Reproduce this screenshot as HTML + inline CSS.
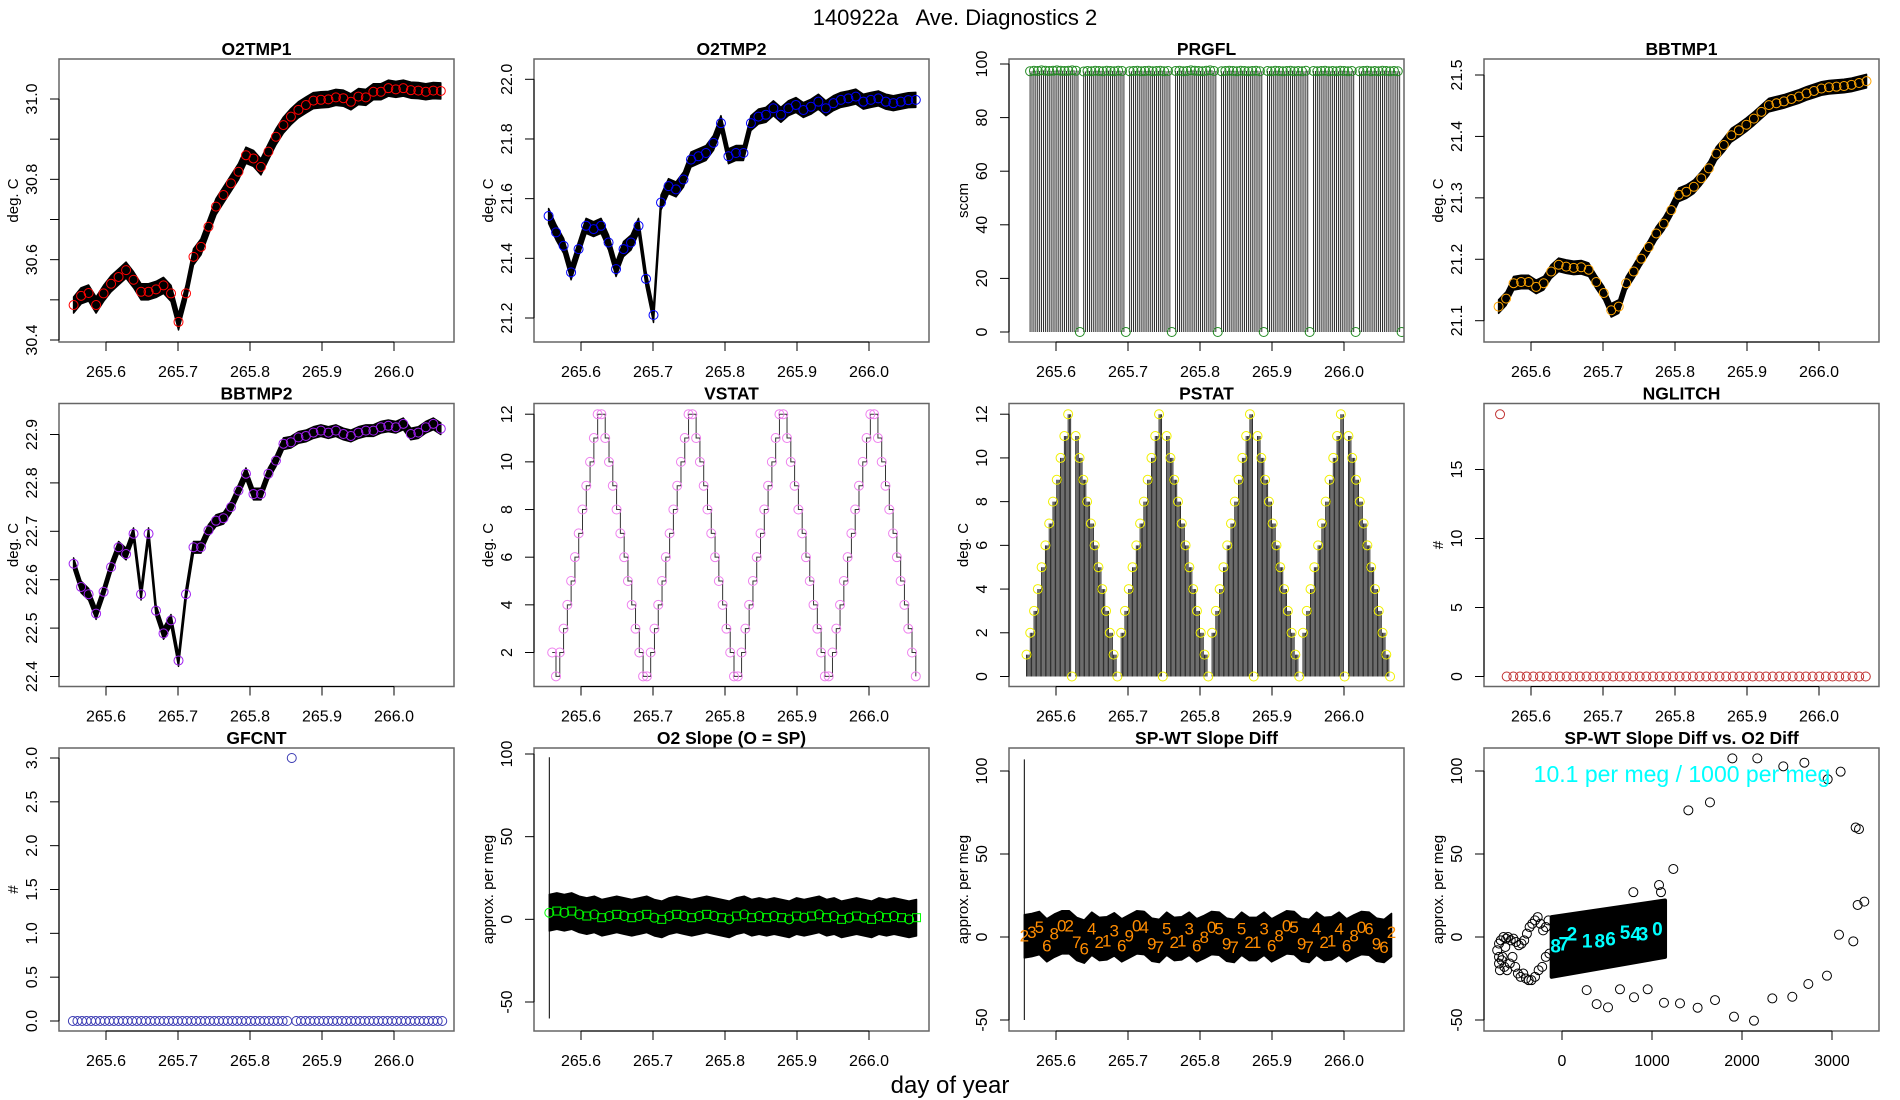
<!DOCTYPE html>
<html><head><meta charset="utf-8"><title>140922a Ave. Diagnostics 2</title>
<style>
html,body{margin:0;padding:0;background:#fff;}
svg{display:block;font-family:"Liberation Sans",sans-serif;}
</style></head>
<body>
<svg id="chart" xmlns="http://www.w3.org/2000/svg" width="1900" height="1100" viewBox="0 0 1900 1100">
<rect x="0" y="0" width="1900" height="1100" fill="#fff"/>
<text x="955" y="25" text-anchor="middle" font-size="22" xml:space="preserve">140922a   Ave. Diagnostics 2</text>
<text x="950" y="1093" text-anchor="middle" font-size="24">day of year</text>
</svg>
<script>
// ---------- data ----------
const o2tmp1 = [30.487,30.51,30.517,30.487,30.516,30.54,30.557,30.574,30.55,30.52,30.52,30.526,30.536,30.516,30.445,30.516,30.607,30.632,30.682,30.732,30.761,30.79,30.819,30.86,30.852,30.831,30.869,30.906,30.935,30.956,30.973,30.985,30.996,30.998,30.999,31.004,31.002,30.993,31.006,31.004,31.018,31.018,31.027,31.024,31.027,31.022,31.021,31.018,31.021,31.02];
const o2tmp2 = [21.542,21.487,21.442,21.353,21.431,21.509,21.498,21.509,21.453,21.364,21.431,21.453,21.509,21.331,21.21,21.587,21.642,21.631,21.664,21.731,21.742,21.753,21.787,21.853,21.742,21.753,21.753,21.853,21.875,21.881,21.903,21.881,21.903,21.914,21.897,21.908,21.925,21.903,21.92,21.931,21.936,21.942,21.925,21.931,21.936,21.925,21.92,21.925,21.93,21.931];
const bbtmp1 = [21.123,21.136,21.161,21.163,21.163,21.155,21.161,21.18,21.191,21.188,21.186,21.187,21.183,21.163,21.145,21.117,21.123,21.161,21.18,21.201,21.22,21.242,21.258,21.28,21.305,21.31,21.318,21.332,21.348,21.372,21.386,21.402,21.41,21.419,21.429,21.44,21.451,21.454,21.457,21.461,21.465,21.47,21.474,21.478,21.48,21.481,21.482,21.484,21.487,21.49];
const bbtmp2 = [22.633,22.585,22.57,22.53,22.575,22.626,22.667,22.653,22.695,22.57,22.695,22.536,22.489,22.516,22.433,22.57,22.667,22.667,22.702,22.722,22.727,22.75,22.784,22.819,22.777,22.777,22.819,22.846,22.881,22.884,22.894,22.897,22.904,22.908,22.904,22.908,22.901,22.897,22.904,22.908,22.908,22.915,22.918,22.915,22.922,22.901,22.904,22.915,22.922,22.912];
const prgfl = [97.3,97.5,97.4,97.6,97.5,97.4,97.5,97.6,97.5,97.4,97.5,97.6,97.5,0,97.2,97.4,97.3,97.5,97.4,97.3,97.5,97.4,97.3,97.5,97.4,0,97.3,97.4,97.5,97.3,97.4,97.5,97.3,97.4,97.5,97.3,97.4,0,97.4,97.5,97.3,97.4,97.6,97.5,97.4,97.3,97.5,97.6,97.4,0,97.3,97.4,97.5,97.4,97.3,97.5,97.4,97.3,97.4,97.5,97.3,0,97.4,97.3,97.5,97.4,97.3,97.4,97.5,97.3,97.4,97.3,97.5,0,97.4,97.3,97.4,97.5,97.3,97.4,97.3,97.5,97.4,97.3,97.4,0,97.3,97.4,97.5,97.3,97.4,97.3,97.5,97.4,97.3,97.4,97.3,0];
const vstat = [2,1,2,3,4,5,6,7,8,9,10,11,12,12,11,10,9,8,7,6,5,4,3,2,1,1,2,3,4,5,6,7,8,9,10,11,12,12,11,10,9,8,7,6,5,4,3,2,1,1,2,3,4,5,6,7,8,9,10,11,12,12,11,10,9,8,7,6,5,4,3,2,1,1,2,3,4,5,6,7,8,9,10,11,12,12,11,10,9,8,7,6,5,4,3,2,1];
const pstat = [1,2,3,4,5,6,7,8,9,10,11,12,0,11,10,9,8,7,6,5,4,3,2,1,0,2,3,4,5,6,7,8,9,10,11,12,0,11,10,9,8,7,6,5,4,3,2,1,0,2,3,4,5,6,7,8,9,10,11,12,0,11,10,9,8,7,6,5,4,3,2,1,0,2,3,4,5,6,7,8,9,10,11,12,0,11,10,9,8,7,6,5,4,3,2,1,0];
const nglitch = [19,0,0,0,0,0,0,0,0,0,0,0,0,0,0,0,0,0,0,0,0,0,0,0,0,0,0,0,0,0,0,0,0,0,0,0,0,0,0,0,0,0,0,0,0,0,0,0,0,0,0,0,0,0,0,0];
const gfcnt = [0,0,0,0,0,0,0,0,0,0,0,0,0,0,0,0,0,0,0,0,0,0,0,0,0,0,0,0,0,0,0,0,0,0,0,0,0,0,0,0,0,0,0,0,0,0,0,0,3,0,0,0,0,0,0,0,0,0,0,0,0,0,0,0,0,0,0,0,0,0,0,0,0,0,0,0,0,0,0,0,0,0];
const o2slope = [4,5,4,5,3,2,3,1,2,3,2,1,2,3,1,0,2,3,2,1,2,3,2,1,0,2,3,1,2,1,2,1,0,2,1,2,3,1,2,0,1,2,1,0,2,1,2,1,0,1];
const spwt = [1,3,6,-5,2,7,7,-3,-7,5,-3,-2,4,-5,1,7,6,-4,-6,5,-3,-2,5,-5,0,6,5,-4,-6,5,-3,-3,5,-5,1,7,6,-4,-6,5,-3,-2,5,-5,1,6,5,-4,-6,3];
const spwtLabels = ["2","3","5","6","8","0","2","7","6","4","2","1","3","6","9","0","4","9","7","5","2","1","3","6","8","0","5","9","7","5","2","1","3","6","8","0","5","9","7","4","2","1","4","6","8","0","6","9","6","2"];
const spikeT = [265.556, 265.556];
const spikeLo = [-60, -50];
const spikeHi = [98, 107];
const outX = [1893,2170,2459,2693,3096,2952,1404,1644,3263,3300,1237,3285,3359,3078,3237,2944,2737,2559,2337,1700,1507,1311,1133,952,800,644,511,385,274,1911,2133,1078,1100,793];
const outY = [107.6,107.6,102.8,105,99.6,95,76.3,81.1,66,65,41,19.3,21.3,1.4,-2.6,-23.3,-28.3,-36,-37,-38,-42.6,-40,-39.6,-31.5,-36.3,-31.5,-42.4,-40.4,-32,-48,-50.4,31.3,27,27];
const tailX = [-720,-700,-680,-650,-620,-600,-570,-540,-510,-480,-450,-420,-390,-360,-330,-300,-270,-240,-210,-180,-150,-700,-670,-640,-610,-580,-550,-520,-490,-460,-430,-400,-370,-340,-300,-260,-220,-180,-140,-700,-690,-660,-630];
const tailY = [-8,-4,-2,0,-1,0,-2,-1,-3,-5,-4,-2,2,6,8,10,12,8,4,6,10,-12,-14,-18,-20,-16,-12,-18,-22,-24,-22,-25,-26,-26,-24,-20,-18,-12,-10,-16,-20,-12,-6];
const clusterX = [-115, 1145];
const clusterTop = [12, 22];
const clusterBot = [-24, -12];
const cyanX = [-70,20,110,280,420,540,700,820,900,1060];
const cyanY = [-5,-4,2,-2,-2,-1,3,2,2,5];
const cyanLabels = ["8","7","2","1","8","6","5","4","3","0"];
const timeTicks = [265.6,265.7,265.8,265.9,266.0];
const timeTickLabels = ["265.6","265.7","265.8","265.9","266.0"];
const scatXTicks = [0,1000,2000,3000];
const scatXTickLabels = ["0","1000","2000","3000"];

// ---------- drawing ----------
const NS = 'http://www.w3.org/2000/svg';
const svg = document.getElementById('chart');
function mk(tag, parent){ const e=document.createElementNS(NS,tag); parent.appendChild(e); return e; }

function makePanel(col,row,title,ylab,ycal,yticks,ylabels,xcal,xticks,xlabels,slug){
  const X0=59+475*col, Y0=59+344.5*row, W=395, H=283;
  const g=mk('g',svg);
  
  
  const sx=v=>X0+xcal[1]+(v-xcal[0])*(xcal[3]-xcal[1])/(xcal[2]-xcal[0]);
  const sy=v=>Y0+ycal[1]+(v-ycal[0])*(ycal[3]-ycal[1])/(ycal[2]-ycal[0]);
  const clip=mk('clipPath',g); clip.setAttribute('id','clip-'+slug);
  const cr=mk('rect',clip); cr.setAttribute('x',X0); cr.setAttribute('y',Y0); cr.setAttribute('width',W); cr.setAttribute('height',H);
  const plot=mk('g',g); plot.setAttribute('clip-path','url(#clip-'+slug+')');
  
  
  const box=mk('rect',g);
  
  
  box.setAttribute('x',X0); box.setAttribute('y',Y0); box.setAttribute('width',W); box.setAttribute('height',H);
  box.setAttribute('fill','none'); box.setAttribute('stroke','#666'); box.setAttribute('stroke-width','1.5');
  const t=mk('text',g);
  
  
  t.setAttribute('x',X0+W/2); t.setAttribute('y',Y0-4); t.setAttribute('text-anchor','middle');
  t.setAttribute('font-size','17.5'); t.setAttribute('font-weight','bold'); t.textContent=title;
  const yl=mk('text',g);
  
  
  yl.setAttribute('transform','translate('+(X0-41)+','+(Y0+H/2)+') rotate(-90)');
  yl.setAttribute('text-anchor','middle'); yl.setAttribute('font-size','15'); yl.textContent=ylab;
  const ya=mk('line',g);
  
  
  ya.setAttribute('x1',X0); ya.setAttribute('x2',X0); ya.setAttribute('y1',sy(yticks[0])); ya.setAttribute('y2',sy(yticks[yticks.length-1]));
  ya.setAttribute('stroke','#000'); ya.setAttribute('stroke-width','1');
  yticks.forEach((v,i)=>{
    const l=mk('line',g);
    
    
    l.setAttribute('x1',X0-9); l.setAttribute('x2',X0); l.setAttribute('y1',sy(v)); l.setAttribute('y2',sy(v)); l.setAttribute('stroke','#000');
    if(ylabels[i]){
      const tx=mk('text',g);
      
      
      tx.setAttribute('transform','translate('+(X0-22)+','+sy(v)+') rotate(-90)');
      tx.setAttribute('text-anchor','middle'); tx.setAttribute('font-size','16'); tx.textContent=ylabels[i];
    }
  });
  const xa=mk('line',g);
  
  
  xa.setAttribute('x1',sx(xticks[0])); xa.setAttribute('x2',sx(xticks[xticks.length-1])); xa.setAttribute('y1',Y0+H); xa.setAttribute('y2',Y0+H);
  xa.setAttribute('stroke','#000');
  xticks.forEach((v,i)=>{
    const l=mk('line',g);
    
    
    l.setAttribute('x1',sx(v)); l.setAttribute('x2',sx(v)); l.setAttribute('y1',Y0+H); l.setAttribute('y2',Y0+H+9); l.setAttribute('stroke','#000');
    const tx=mk('text',g);
    
    
    tx.setAttribute('x',sx(v)); tx.setAttribute('y',Y0+H+35); tx.setAttribute('text-anchor','middle'); tx.setAttribute('font-size','16');
    tx.textContent=xlabels[i];
  });
  return {plot,sx,sy,X0,Y0,W,H};
}
const TCAL=[265.6,47,265.7,119];
function tp(slug,col,row,title,ylab,ycal,yt,yl){ return makePanel(col,row,title,ylab,ycal,yt,yl,TCAL,timeTicks,timeTickLabels,slug); }
function times(n,t0,t1){ const a=[]; for(let i=0;i<n;i++) a.push(t0+i*(t1-t0)/(n-1)); return a; }
function circle(parent,x,y,color,name){
  const c=mk('circle',parent);
  
  
  c.setAttribute('cx',x); c.setAttribute('cy',y); c.setAttribute('r','4.5');
  c.setAttribute('fill','none'); c.setAttribute('stroke',color); c.setAttribute('stroke-width','1');
}
function band(P,ts,vals,spread,name,damp){
  const d = damp===undefined ? 1 : damp;
  let up='',lo='';
  ts.forEach((t,i)=>{ up+=P.sx(t)+','+P.sy(vals[i]*d+spread)+' '; });
  for(let i=ts.length-1;i>=0;i--){ lo+=P.sx(ts[i])+','+P.sy(vals[i]*d-spread)+' '; }
  const pg=mk('polygon',P.plot);
  
  
  pg.setAttribute('points',up+lo); pg.setAttribute('fill','#000'); pg.setAttribute('stroke','#000'); pg.setAttribute('stroke-width','1.5'); pg.setAttribute('stroke-linejoin','round');
}
function noisyPanel(P,vals,spread,color,t0,t1,slug){
  const ts=times(vals.length,t0,t1);
  band(P,ts,vals,spread,slug+'-noise-band');
  vals.forEach((v,i)=>circle(P.plot,P.sx(ts[i]),P.sy(v),color,slug+'-point'));
}

let P=tp('o2tmp1',0,0,'O2TMP1','deg. C',[31.0,40,30.4,281],[30.4,30.5,30.6,30.7,30.8,30.9,31.0],['30.4','','30.6','','30.8','','31.0']);
noisyPanel(P,o2tmp1,0.02,'#ff0000',265.555,266.065,'o2tmp1');
P=tp('o2tmp2',1,0,'O2TMP2','deg. C',[22.0,20.3,21.2,259],[21.2,21.4,21.6,21.8,22.0],['21.2','21.4','21.6','21.8','22.0']);
noisyPanel(P,o2tmp2,0.025,'#0000ff',265.555,266.065,'o2tmp2');
P=tp('prgfl',2,0,'PRGFL','sccm',[100,5,0,273],[0,20,40,60,80,100],['0','20','40','60','80','100']);
(function(){
  const ts=times(prgfl.length,265.564,266.080); const dt=ts[1]-ts[0];
  prgfl.forEach((v,i)=>{
    if(v>0){
      [0,0.5].forEach(f=>{
        const l=mk('line',P.plot);
        
        
        l.setAttribute('x1',P.sx(ts[i]+f*dt)); l.setAttribute('x2',P.sx(ts[i]+f*dt)); l.setAttribute('y1',P.sy(0)); l.setAttribute('y2',P.sy(v));
        l.setAttribute('stroke','#1a1a1a'); l.setAttribute('stroke-width','0.9');
      });
    }
  });
  prgfl.forEach((v,i)=>circle(P.plot,P.sx(ts[i]),P.sy(v),'#228b22','prgfl-point'));
})();
P=tp('bbtmp1',3,0,'BBTMP1','deg. C',[21.5,16,21.1,261.7],[21.1,21.2,21.3,21.4,21.5],['21.1','21.2','21.3','21.4','21.5']);
noisyPanel(P,bbtmp1,0.011,'#ffa500',265.555,266.066,'bbtmp1');
P=tp('bbtmp2',0,1,'BBTMP2','deg. C',[22.9,31,22.4,273],[22.4,22.5,22.6,22.7,22.8,22.9],['22.4','22.5','22.6','22.7','22.8','22.9']);
noisyPanel(P,bbtmp2,0.012,'#a020f0',265.555,266.065,'bbtmp2');
P=tp('vstat',1,1,'VSTAT','deg. C',[12,10.7,2,249],[2,4,6,8,10,12],['2','4','6','8','10','12']);
(function(){
  const ts=times(vstat.length,265.560,266.065);
  let d='M'+P.sx(ts[0])+' '+P.sy(vstat[0]);
  for(let i=1;i<ts.length;i++){ d+=' H'+P.sx(ts[i])+' V'+P.sy(vstat[i]); }
  const p=mk('path',P.plot);
  
  
  p.setAttribute('d',d); p.setAttribute('fill','none'); p.setAttribute('stroke','#333'); p.setAttribute('stroke-width','1');
  vstat.forEach((v,i)=>circle(P.plot,P.sx(ts[i]),P.sy(v),'#ee82ee','vstat-point'));
})();
P=tp('pstat',2,1,'PSTAT','deg. C',[12,10.7,0,273],[0,2,4,6,8,10,12],['0','2','4','6','8','10','12']);
(function(){
  const ts=times(pstat.length,265.559,266.064); const dt=ts[1]-ts[0];
  pstat.forEach((v,i)=>{
    [0,1/3,2/3].forEach(f=>{
      if(i==pstat.length-1 && f>0) return;
      const l=mk('line',P.plot);
      
      
      l.setAttribute('x1',P.sx(ts[i]+f*dt)); l.setAttribute('x2',P.sx(ts[i]+f*dt)); l.setAttribute('y1',P.sy(0)); l.setAttribute('y2',P.sy(v));
      l.setAttribute('stroke','#1a1a1a'); l.setAttribute('stroke-width','0.9');
    });
  });
  pstat.forEach((v,i)=>circle(P.plot,P.sx(ts[i]),P.sy(v),'#f0f000','pstat-point'));
})();
P=tp('nglitch',3,1,'NGLITCH','#',[15,66,0,273],[0,5,10,15],['0','5','10','15']);
(function(){
  const ts=times(nglitch.length,265.557,266.065);
  nglitch.forEach((v,i)=>circle(P.plot,P.sx(ts[i]),P.sy(v),'#c03030','nglitch-point'));
})();
P=tp('gfcnt',0,2,'GFCNT','#',[3,10,0,273],[0,0.5,1,1.5,2,2.5,3],['0.0','0.5','1.0','1.5','2.0','2.5','3.0']);
(function(){
  const ts=times(gfcnt.length,265.554,266.067);
  gfcnt.forEach((v,i)=>circle(P.plot,P.sx(ts[i]),P.sy(v),'#3b3bb3','gfcnt-point'));
})();
P=tp('o2slope',1,2,'O2 Slope (O = SP)','approx. per meg',[100,6,-50,254],[-50,0,50,100],['-50','0','50','100']);
(function(){
  const ts=times(o2slope.length,265.556,266.066);
  band(P,ts,o2slope,11,'o2slope-noise-band');
  const l=mk('line',P.plot);
  
  
  l.setAttribute('x1',P.sx(spikeT[0])); l.setAttribute('x2',P.sx(spikeT[0])); l.setAttribute('y1',P.sy(spikeLo[0])); l.setAttribute('y2',P.sy(spikeHi[0])); l.setAttribute('stroke','#000');
  o2slope.forEach((v,i)=>{
    if(i%2==0){ circle(P.plot,P.sx(ts[i]),P.sy(v),'#00ff00','o2slope-point'); }
    else {
      const r=mk('rect',P.plot);
      
      
      r.setAttribute('x',P.sx(ts[i])-4); r.setAttribute('y',P.sy(v)-4); r.setAttribute('width',8); r.setAttribute('height',8);
      r.setAttribute('fill','none'); r.setAttribute('stroke','#00ff00'); r.setAttribute('stroke-width','1');
    }
  });
})();
P=tp('spwt',2,2,'SP-WT Slope Diff','approx. per meg',[100,23,-50,272],[-50,0,50,100],['-50','0','50','100']);
(function(){
  const ts=times(spwt.length,265.556,266.066);
  band(P,ts,spwt,13,'spwt-noise-band',0.4);
  const l=mk('line',P.plot);
  
  
  l.setAttribute('x1',P.sx(spikeT[1])); l.setAttribute('x2',P.sx(spikeT[1])); l.setAttribute('y1',P.sy(spikeLo[1])); l.setAttribute('y2',P.sy(spikeHi[1])); l.setAttribute('stroke','#000');
  spwt.forEach((v,i)=>{
    const t=mk('text',P.plot);
    
    
    t.setAttribute('x',P.sx(ts[i])); t.setAttribute('y',P.sy(v)+6); t.setAttribute('text-anchor','middle');
    t.setAttribute('font-size','17'); t.setAttribute('fill','#ff8c00'); t.textContent=spwtLabels[i];
  });
})();
P=makePanel(3,2,'SP-WT Slope Diff vs. O2 Diff','approx. per meg',[100,23,-50,272],[-50,0,50,100],['-50','0','50','100'],[0,78,1000,168],scatXTicks,scatXTickLabels,'scatter');
(function(){
  const pg=mk('polygon',P.plot);
  
  
  pg.setAttribute('points',[P.sx(clusterX[0])+','+P.sy(clusterTop[0]),P.sx(clusterX[1])+','+P.sy(clusterTop[1]),P.sx(clusterX[1])+','+P.sy(clusterBot[1]),P.sx(clusterX[0])+','+P.sy(clusterBot[0])].join(' '));
  pg.setAttribute('fill','#000'); pg.setAttribute('stroke','#000'); pg.setAttribute('stroke-width','4'); pg.setAttribute('stroke-linejoin','round');
  tailX.forEach((x,i)=>circle(P.plot,P.sx(x),P.sy(tailY[i]),'#000','scatter-point'));
  outX.forEach((x,i)=>circle(P.plot,P.sx(x),P.sy(outY[i]),'#000','scatter-point'));
  cyanX.forEach((x,i)=>{
    const t=mk('text',P.plot);
    
    
    t.setAttribute('x',P.sx(x)); t.setAttribute('y',P.sy(cyanY[i])+7); t.setAttribute('text-anchor','middle');
    t.setAttribute('font-size','19'); t.setAttribute('font-weight','bold'); t.setAttribute('fill','#00ffff'); t.textContent=cyanLabels[i];
  });
  const ann=mk('text',P.plot);
  
  
  ann.setAttribute('x',1682); ann.setAttribute('y',782); ann.setAttribute('text-anchor','middle');
  ann.setAttribute('font-size','23'); ann.setAttribute('fill','#00ffff'); ann.textContent='10.1 per meg / 1000 per meg';
})();
</script>
</body></html>
